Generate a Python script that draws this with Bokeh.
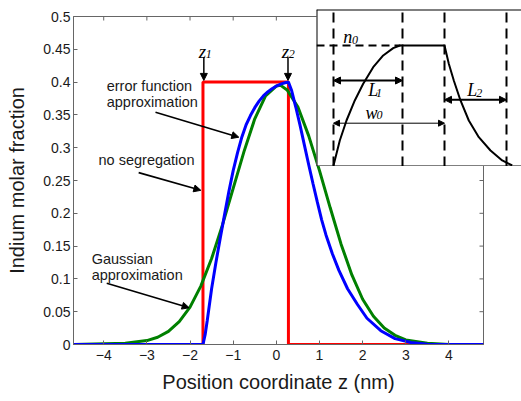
from bokeh.plotting import figure
from bokeh.models import Range1d, FixedTicker, Arrow, NormalHead
from bokeh.core.properties import value
from bokeh.embed import file_html
from bokeh.resources import INLINE

# ---------------- data ----------------
x_ticks = [-4, -3, -2, -1, 0, 1, 2, 3, 4]
x_tick_labels = ["\u22124", "\u22123", "\u22122", "\u22121", "0", "1", "2", "3", "4"]
y_ticks = [0, 0.05, 0.1, 0.15, 0.2, 0.25, 0.3, 0.35, 0.4, 0.45, 0.5]
y_tick_labels = ["0", "0.05", "0.1", "0.15", "0.2", "0.25", "0.3", "0.35", "0.4", "0.45", "0.5"]
x_min, x_max = -4.7, 4.8
y_min, y_max = 0.0, 0.5

# no segregation (step profile)
red_x = [-4.7, -1.70, -1.70, 0.28, 0.28, 4.8]
red_y = [0.0, 0.0, 0.4, 0.4, 0.0, 0.0]

# Gaussian approximation
green_x = [-4.7, -3.5, -3.0, -2.75, -2.5, -2.25, -2.0, -1.75, -1.5, -1.25, -1.0,
           -0.75, -0.5, -0.25, 0.0, 0.1, 0.25, 0.5, 0.75, 1.0, 1.25, 1.5, 1.75,
           2.0, 2.25, 2.5, 2.75, 3.0, 3.5, 4.0, 4.8]
green_y = [0.0, 0.002, 0.006, 0.011, 0.020, 0.035, 0.057, 0.089, 0.131, 0.182, 0.238,
           0.294, 0.344, 0.379, 0.394, 0.395, 0.388, 0.362, 0.318, 0.265, 0.208, 0.153, 0.106,
           0.069, 0.043, 0.025, 0.014, 0.007, 0.002, 0.0, 0.0]

# error function approximation
blue_x = [-4.7, -1.70, -1.65, -1.60, -1.50, -1.40, -1.30, -1.20, -1.10, -1.00, -0.90,
          -0.80, -0.70, -0.60, -0.50, -0.40, -0.30, -0.20, -0.10, 0.00, 0.10, 0.20,
          0.28, 0.35, 0.45, 0.55, 0.65, 0.75, 0.85, 0.95, 1.05, 1.15, 1.30, 1.45,
          1.65, 1.88, 2.10, 2.42, 2.75, 3.12, 3.50, 4.00, 4.8]
blue_y = [0.0, 0.0, 0.015, 0.037, 0.085, 0.125, 0.162, 0.198, 0.233, 0.265, 0.292,
          0.316, 0.335, 0.349, 0.361, 0.371, 0.379, 0.385, 0.390, 0.394, 0.397, 0.399,
          0.400, 0.388, 0.362, 0.334, 0.304, 0.274, 0.245, 0.217, 0.190, 0.167, 0.138, 0.113,
          0.085, 0.061, 0.040, 0.021, 0.009, 0.003, 0.0005, 0.0, 0.0]

# annotation texts
note_texts = ["error function", "approximation", "no segregation", "Gaussian", "approximation"]
note_x = [-3.93, -3.93, -4.12, -4.28, -4.28]
note_y = [0.3945, 0.3690, 0.2816, 0.1300, 0.1056]
# annotation arrows (start x, start y, end x, end y)
arr_x0 = [-2.80, -3.19, -3.93]
arr_y0 = [0.354, 0.262, 0.0935]
arr_x1 = [-0.87, -1.75, -2.02]
arr_y1 = [0.316, 0.235, 0.056]

# interface labels z1, z2
z_main = ["z", "z"]
z_sub = ["1", "2"]
z_x = [-1.80, 0.128]
z_y = [0.4467, 0.4467]
zsub_x = [-1.635, 0.29]
zsub_y = [0.4421, 0.4421]
zarrow_x = [-1.68, 0.27]
zarrow_y0 = 0.4377
zarrow_y1 = 0.4026

# ---------------- inset schematic ----------------
ins_bounds = [0.0, 6.9, 11.1, 17.3]
ins_left_x = [0.0, 0.63, 1.30, 2.13, 2.97, 3.97, 4.97, 5.97, 6.63, 6.9, 11.1]
ins_left_y = [0.0, 0.208, 0.375, 0.542, 0.681, 0.819, 0.917, 0.978, 1.0, 1.0, 1.0]
ins_right_x = [11.1, 11.53, 12.03, 12.7, 13.53, 14.53, 15.7, 16.87, 17.87]
ins_right_y = [1.0, 0.848, 0.708, 0.542, 0.375, 0.236, 0.125, 0.042, 0.0]
ins_main = ["n", "L", "w", "L"]
ins_sub = ["0", "1", "0", "2"]
ins_main_x = [0.97, 3.47, 3.20, 13.37]
ins_main_y = [1.075, 0.628, 0.437, 0.628]
ins_sub_x = [1.85, 4.25, 4.30, 14.28]
ins_sub_y = [1.048, 0.603, 0.417, 0.603]

FONT = "Liberation Sans"
SERIF = "Liberation Serif"
AX = "#666666"
TXT = "#1a1a1a"

# ---------------- main figure ----------------
p = figure(frame_width=410, frame_height=328,
           x_range=Range1d(x_min, x_max), y_range=Range1d(y_min, y_max),
           toolbar_location=None, output_backend="svg",
           min_border_left=73, min_border_right=30, min_border_top=16, min_border_bottom=51)
p.styles = {"position": "absolute", "left": "0px", "top": "0px"}
p.outline_line_color = AX
p.outline_line_width = 1
p.xgrid.visible = False
p.ygrid.visible = False
p.background_fill_color = "white"

for ax in (p.xaxis[0], p.yaxis[0]):
    ax.axis_line_color = AX
    ax.major_tick_line_color = AX
    ax.major_tick_in = 4
    ax.major_tick_out = 0
    ax.minor_tick_line_color = None
    ax.major_label_text_font = FONT
    ax.major_label_text_color = TXT
    ax.major_label_text_font_size = "14px"
    ax.axis_label_text_font = FONT
    ax.axis_label_text_font_style = "normal"
    ax.axis_label_text_color = TXT
    ax.axis_label_text_font_size = "20px"

p.xaxis.ticker = FixedTicker(ticks=x_ticks)
p.yaxis.ticker = FixedTicker(ticks=y_ticks)
p.xaxis.major_label_overrides = dict(zip(x_ticks, x_tick_labels))
p.yaxis.major_label_overrides = dict(zip(y_ticks, y_tick_labels))
p.xaxis.axis_label = "Position coordinate z (nm)"
p.yaxis.axis_label = "Indium molar fraction"
p.xaxis.major_label_standoff = 5
p.yaxis.major_label_standoff = 3
p.xaxis.axis_label_standoff = 8
p.yaxis.axis_label_standoff = 12

# box ticks on the top and right edges (MATLAB style)
tick_dy = (y_max - y_min) * 4 / 328
tick_dx = (x_max - x_min) * 4 / 410
p.segment(x0=x_ticks, y0=[y_max] * len(x_ticks), x1=x_ticks, y1=[y_max - tick_dy] * len(x_ticks),
          line_color=AX, line_width=1)
p.segment(x0=[x_max] * len(y_ticks), y0=y_ticks, x1=[x_max - tick_dx] * len(y_ticks), y1=y_ticks,
          line_color=AX, line_width=1)

p.line(red_x, red_y, line_color="#ff0000", line_width=3)
p.line(green_x, green_y, line_color="#008000", line_width=3)
p.line(blue_x, blue_y, line_color="#0000ff", line_width=3)

p.text(x=note_x, y=note_y, text=note_texts, text_font=value(FONT),
       text_font_size="14.5px", text_color=TXT, text_align="left", text_baseline="alphabetic")
for xs, ys, xe, ye in zip(arr_x0, arr_y0, arr_x1, arr_y1):
    p.add_layout(Arrow(x_start=xs, y_start=ys, x_end=xe, y_end=ye, line_width=1.6,
                       line_color="black",
                       end=NormalHead(size=7, fill_color="black", line_color="black")))

p.text(x=z_x, y=z_y, text=z_main, text_font=value(SERIF), text_font_style="italic",
       text_font_size="19px", text_color="black", text_baseline="alphabetic")
p.text(x=zsub_x, y=zsub_y, text=z_sub, text_font=value(SERIF), text_font_style="italic",
       text_font_size="12px", text_color="black", text_baseline="alphabetic")
for zx in zarrow_x:
    p.add_layout(Arrow(x_start=zx, y_start=zarrow_y0, x_end=zx, y_end=zarrow_y1,
                       line_width=1.5, line_color="black",
                       end=NormalHead(size=7, fill_color="black", line_color="black")))

# ---------------- inset figure ----------------
q = figure(width=205, height=157, x_range=Range1d(-1.7, 18.8), y_range=Range1d(-0.0083, 1.3),
           toolbar_location=None, output_backend="svg", x_axis_type=None, y_axis_type=None,
           min_border=0)
q.outline_line_color = None
q.xgrid.visible = False
q.ygrid.visible = False
q.background_fill_color = "white"
q.border_fill_color = "white"
q.styles = {"position": "absolute", "left": "316px", "top": "9px"}

# box edges (top, bottom, left) along the range limits
q.segment(x0=[-1.7, -1.7, -1.7], y0=[1.3, -0.0083, -0.0083],
          x1=[18.8, 18.8, -1.7], y1=[1.3, -0.0083, 1.3], line_color="black", line_width=2)
q.segment(x0=ins_bounds, y0=[-0.0083] * 4, x1=ins_bounds, y1=[1.3] * 4,
          line_color="black", line_width=2, line_dash="10 6")
q.segment(x0=[-1.7], y0=[1.0], x1=[6.7], y1=[1.0], line_color="black", line_width=2,
          line_dash="8 5")
q.line(ins_left_x, ins_left_y, line_color="black", line_width=2)
q.line(ins_right_x, ins_right_y, line_color="black", line_width=2)

def dbl(qf, xa, xb, y, w, s):
    qf.add_layout(Arrow(x_start=xa, y_start=y, x_end=xb, y_end=y, line_width=w, line_color="black",
                        start=NormalHead(size=s, fill_color="black", line_color="black"),
                        end=NormalHead(size=s, fill_color="black", line_color="black")))

dbl(q, ins_bounds[0], ins_bounds[1], 0.708, 2, 7)
dbl(q, ins_bounds[2], ins_bounds[3], 0.5475, 2, 7)
dbl(q, ins_bounds[0], ins_bounds[2], 0.3525, 1, 6)

q.text(x=ins_main_x, y=ins_main_y, text=ins_main, text_font=value(SERIF), text_font_style="italic",
       text_font_size="18px", text_color="black", text_baseline="alphabetic")
q.text(x=ins_sub_x, y=ins_sub_y, text=ins_sub, text_font=value(SERIF), text_font_style="italic",
       text_font_size="12px", text_color="black", text_baseline="alphabetic")

open("out.html", "w").write(file_html([p, q], INLINE))
